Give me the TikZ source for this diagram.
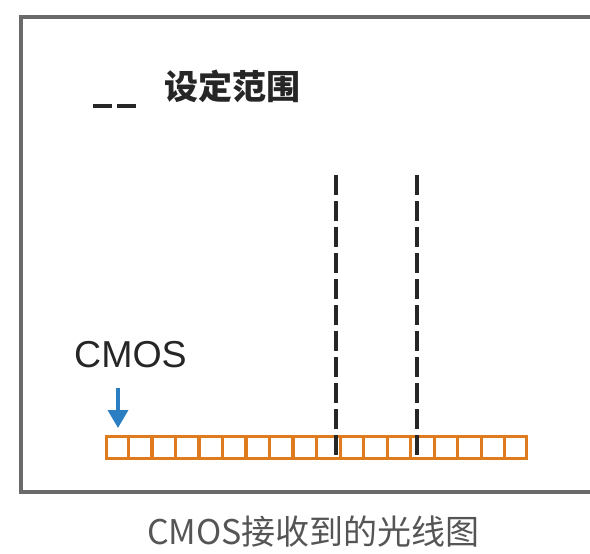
\documentclass[tikz,border=0pt]{standalone}
\usepackage{fontspec}
\setmainfont{Liberation Sans}
\newfontfamily\cjk{Noto Sans CJK SC}
\usetikzlibrary{arrows.meta,calc}
\definecolor{framegray}{HTML}{6A6A6A}
\definecolor{cellorange}{HTML}{E07A1F}
\definecolor{arrowblue}{HTML}{2B7EC1}
\definecolor{textdark}{HTML}{262626}
\definecolor{capgray}{HTML}{555555}
\tikzset{
  frameline/.style={draw=framegray,line width=3.6pt},
  cellbox/.style={draw=cellorange,line width=3.2pt,fill=white},
  rangeline/.style={draw=textdark,line width=3.6pt,dash pattern=on 20pt off 6pt},
  legendline/.style={draw=textdark,line width=3.8pt,dash pattern=on 19pt off 5pt},
  lbl/.style={inner sep=0pt,text=textdark},
}
\begin{document}
\begin{tikzpicture}[x=1pt,y=-1pt]
\useasboundingbox (0,0) rectangle (590,554);
% frame (open to the right, as cut by the picture edge)
\draw[frameline] (592,17) -- (21,17) -- (21,492) -- (592,492);
% legend
\coordinate (lg1) at (93,106);
\coordinate (lg2) at (137,106);
\draw[legendline] (lg1) -- (lg2);
\node[lbl,anchor=base west,font=\cjk\bfseries\fontsize{34}{34}\selectfont] (legend) at (164,99) {设定范围};
% CMOS strip
\node[cellbox,minimum width=420pt,minimum height=22pt,inner sep=0pt,anchor=north west] (strip) at (105,435) {};
\foreach \i in {1,...,17} {
  \draw[cellorange,line width=3.2pt] ($(strip.north west)!{\i/18}!(strip.north east)$) -- ($(strip.south west)!{\i/18}!(strip.south east)$);
}
% range lines
\coordinate (r1t) at (336,175);
\coordinate (r1b) at (336,457);
\coordinate (r2t) at (417,175);
\coordinate (r2b) at (417,457);
\draw[rangeline] (r1t) -- (r1b);
\draw[rangeline] (r2t) -- (r2b);
% CMOS label and arrow
\node[lbl,anchor=base west,font=\fontsize{37.5}{37.5}\selectfont] (cmos) at (74,367) {CMOS};
\coordinate (at) at (118,388);
\coordinate (ab) at (118,428);
\draw[arrowblue,line width=3.6pt,-{Triangle[width=20pt,length=18pt]}] (at) -- (ab);
% caption
\node[inner sep=0pt,anchor=base west,text=capgray,font=\cjk\fontsize{34}{34}\selectfont] (caption) at (147,544) {CMOS接收到的光线图};
\end{tikzpicture}
\end{document}
